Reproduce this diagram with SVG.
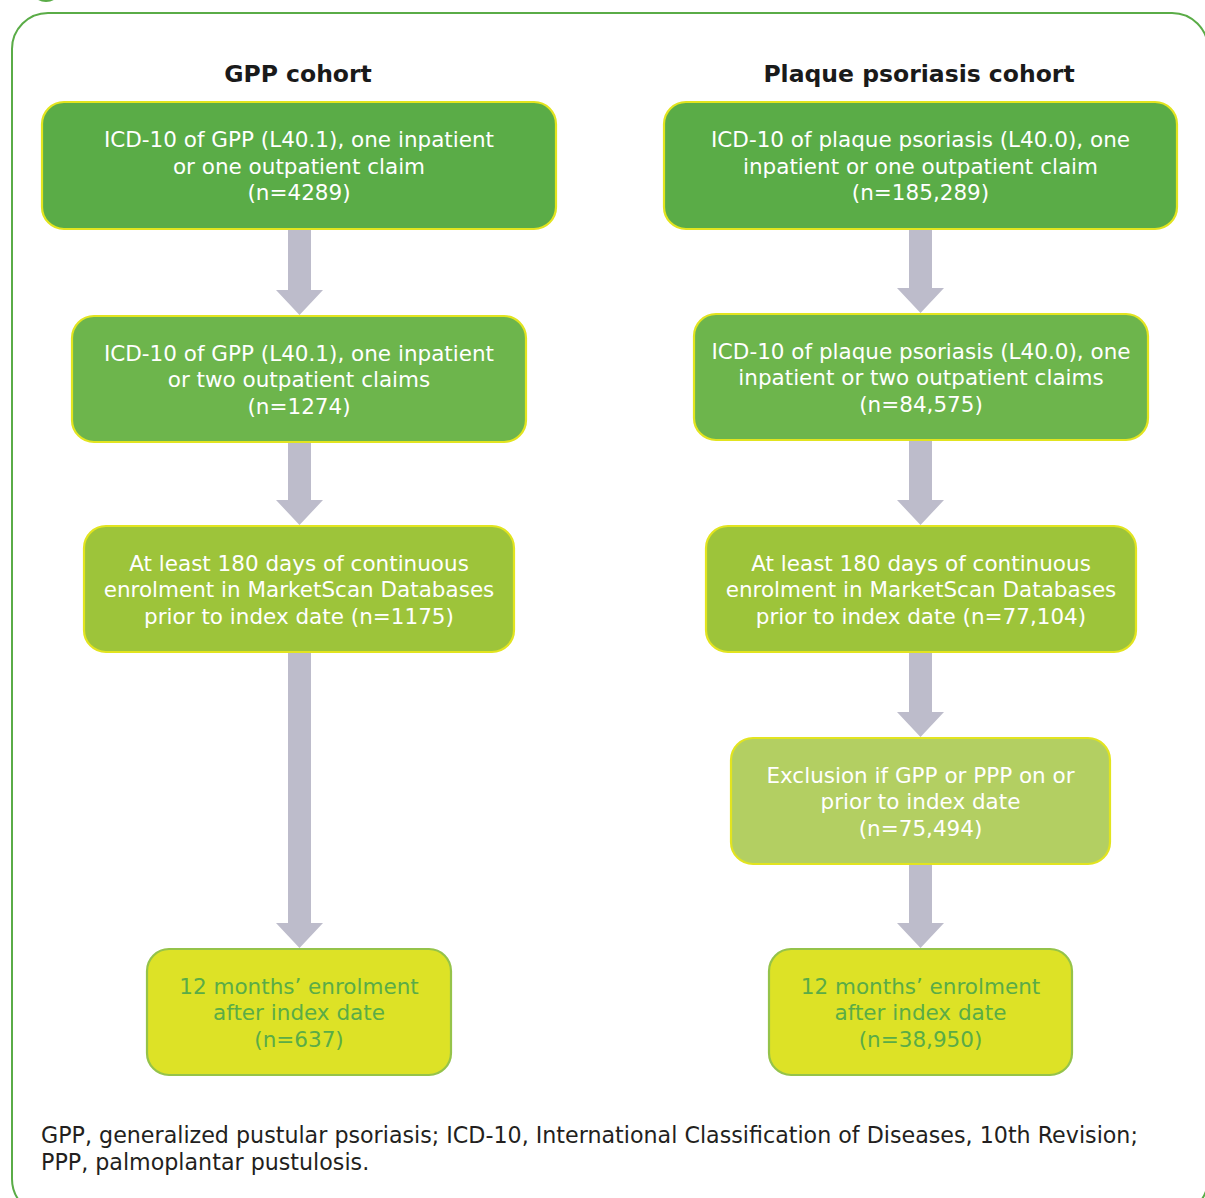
<svg xmlns="http://www.w3.org/2000/svg" width="1205" height="1198" viewBox="0 0 1205 1198">
<style>
.frame{fill:none;stroke:#5AAC47;stroke-width:2}
.box{stroke-width:2.2}
.b1{fill:#5AAC47;stroke:#E2E41F}
.b2{fill:#6DB54C;stroke:#E2E41F}
.b3{fill:#9DC43A;stroke:#E2E41F}
.b4{fill:#B3CF62;stroke:#E2E41F}
.b5{fill:#DDE226;stroke:#95C34A}
.t{font-family:"DejaVu Sans",sans-serif;font-size:21.5px;text-anchor:middle;fill:#FFFFFF}
.tg{fill:#5AAC47}
.title{font-family:"DejaVu Sans",sans-serif;font-weight:bold;font-size:23.5px;text-anchor:middle;fill:#1A1A1A}
.foot{font-family:"DejaVu Sans",sans-serif;font-size:22.2px;fill:#231F20}
.arrow{fill:#BDBCCB}
</style>
<rect width="1205" height="1198" fill="#FFFFFF"/>
<circle cx="46" cy="-14" r="16" fill="#5AAC47"/>
<rect class="frame" x="12" y="13" width="1196" height="1202" rx="36" ry="36"/>

<text class="title" x="298" y="82">GPP cohort</text>
<text class="title" x="919" y="82">Plaque psoriasis cohort</text>

<g id="connectors">
<polygon class="arrow" points="288,229 311,229 311,290 323,290 299.5,315 276,290 288,290"/>
<polygon class="arrow" points="288,442 311,442 311,500 323,500 299.5,525 276,500 288,500"/>
<polygon class="arrow" points="288,652 311,652 311,923 323,923 299.5,948 276,923 288,923"/>
<polygon class="arrow" points="909,229 932,229 932,288 944,288 920.5,313 897,288 909,288"/>
<polygon class="arrow" points="909,440 932,440 932,500 944,500 920.5,525 897,500 909,500"/>
<polygon class="arrow" points="909,652 932,652 932,712 944,712 920.5,737 897,712 909,712"/>
<polygon class="arrow" points="909,864 932,864 932,923 944,923 920.5,948 897,923 909,923"/>
</g>

<g id="gpp1">
<rect class="box b1" x="42" y="102" width="514" height="127" rx="22"/>
<text class="t" x="299" y="147">ICD-10 of GPP (L40.1), one inpatient</text>
<text class="t" x="299" y="173.5">or one outpatient claim</text>
<text class="t" x="299" y="200">(n=4289)</text>
</g>
<g id="gpp2">
<rect class="box b2" x="72" y="316" width="454" height="126" rx="22"/>
<text class="t" x="299" y="360.5">ICD-10 of GPP (L40.1), one inpatient</text>
<text class="t" x="299" y="387">or two outpatient claims</text>
<text class="t" x="299" y="413.5">(n=1274)</text>
</g>
<g id="gpp3">
<rect class="box b3" x="84" y="526" width="430" height="126" rx="22"/>
<text class="t" x="299" y="570.5">At least 180 days of continuous</text>
<text class="t" x="299" y="597">enrolment in MarketScan Databases</text>
<text class="t" x="299" y="623.5">prior to index date (n=1175)</text>
</g>
<g id="gpp4">
<rect class="box b5" x="147" y="949" width="304" height="126" rx="22"/>
<text class="t tg" x="299" y="993.5">12 months’ enrolment</text>
<text class="t tg" x="299" y="1020">after index date</text>
<text class="t tg" x="299" y="1046.5">(n=637)</text>
</g>

<g id="pso1">
<rect class="box b1" x="664" y="102" width="513" height="127" rx="22"/>
<text class="t" x="920.5" y="147">ICD-10 of plaque psoriasis (L40.0), one</text>
<text class="t" x="920.5" y="173.5">inpatient or one outpatient claim</text>
<text class="t" x="920.5" y="200">(n=185,289)</text>
</g>
<g id="pso2">
<rect class="box b2" x="694" y="314" width="454" height="126" rx="22"/>
<text class="t" x="921" y="358.5">ICD-10 of plaque psoriasis (L40.0), one</text>
<text class="t" x="921" y="385">inpatient or two outpatient claims</text>
<text class="t" x="921" y="411.5">(n=84,575)</text>
</g>
<g id="pso3">
<rect class="box b3" x="706" y="526" width="430" height="126" rx="22"/>
<text class="t" x="921" y="570.5">At least 180 days of continuous</text>
<text class="t" x="921" y="597">enrolment in MarketScan Databases</text>
<text class="t" x="921" y="623.5">prior to index date (n=77,104)</text>
</g>
<g id="pso4">
<rect class="box b4" x="731" y="738" width="379" height="126" rx="22"/>
<text class="t" x="920.5" y="782.5">Exclusion if GPP or PPP on or</text>
<text class="t" x="920.5" y="809">prior to index date</text>
<text class="t" x="920.5" y="835.5">(n=75,494)</text>
</g>
<g id="pso5">
<rect class="box b5" x="769" y="949" width="303" height="126" rx="22"/>
<text class="t tg" x="920.5" y="993.5">12 months’ enrolment</text>
<text class="t tg" x="920.5" y="1020">after index date</text>
<text class="t tg" x="920.5" y="1046.5">(n=38,950)</text>
</g>

<text class="foot" x="41" y="1143">GPP, generalized pustular psoriasis; ICD-10, International Classification of Diseases, 10th Revision;</text>
<text class="foot" x="41" y="1170">PPP, palmoplantar pustulosis.</text>
</svg>
